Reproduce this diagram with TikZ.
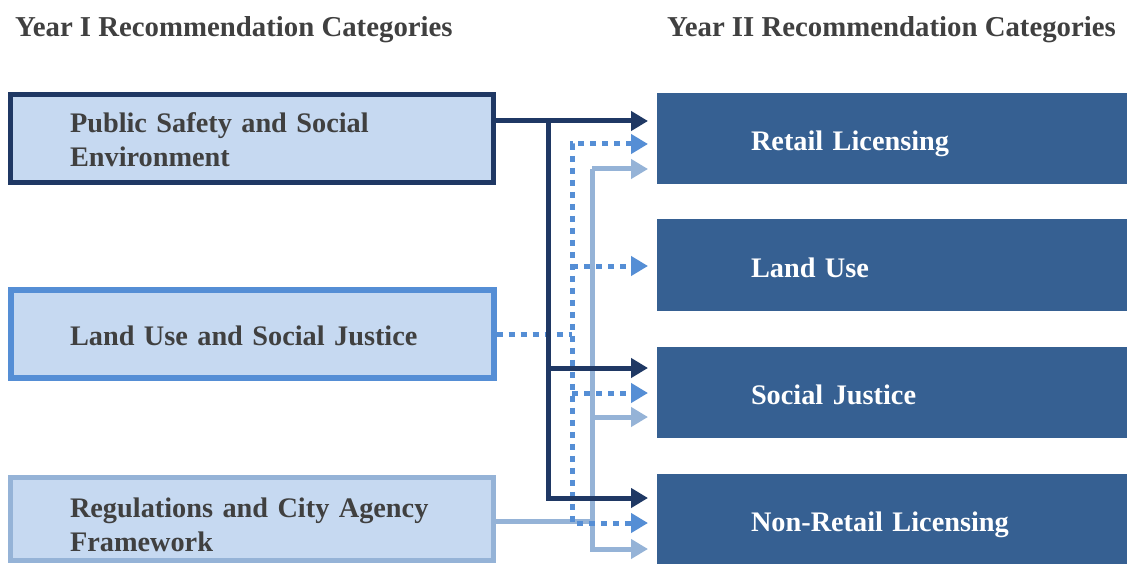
\documentclass[tikz,border=0pt]{standalone}
\usepackage{fontspec}
\setmainfont{Liberation Serif}
\usetikzlibrary{arrows.meta}
\definecolor{navy}{HTML}{1F3864}
\definecolor{midblue}{HTML}{558ED5}
\definecolor{lightline}{HTML}{95B3D7}
\definecolor{lfill}{HTML}{C6D9F1}
\definecolor{rfill}{HTML}{366092}
\definecolor{tgray}{HTML}{404040}
\begin{document}
\begin{tikzpicture}[x=1pt,y=-1pt,
  lbox/.style={rectangle, fill=lfill, line width=5pt, minimum width=483pt, inner xsep=59.5pt, inner ysep=0pt, text width=364pt, align=left, text=tgray, font=\bfseries\fontsize{28.3}{34}\selectfont},
  rbox/.style={rectangle, fill=rfill, outer sep=0pt, minimum width=470pt, minimum height=91pt, inner xsep=94pt, text width=282pt, text height=30pt, text depth=6pt, align=left, text=white, anchor=north west, font=\bfseries\fontsize{28.3}{34}\selectfont},
  ttl/.style={anchor=base west, inner sep=0pt, text=tgray, font=\bfseries\fontsize{28.8}{32}\selectfont},
  tipn/.style={-{Triangle[length=17pt,width=19pt]}},
  navyc/.style={draw=navy, line width=5pt, line join=miter},
  dotc/.style={draw=midblue, line width=5pt, dash pattern=on 6pt off 6pt},
  lightc/.style={draw=lightline, line width=5pt, line join=miter},
]
\useasboundingbox (0,0) rectangle (1127,564);

% titles
\node[ttl] (t1) at (15,37) {Year I Recommendation Categories};
\node[ttl] (t2) at (667,37) {Year II Recommendation Categories};

% left boxes
\node[lbox, draw=navy, minimum height=88pt, text height=23pt] (b1) at (252,138.5) {\mbox{Public Safety and Social}\\Environment};
\node[lbox, draw=midblue, line width=6pt, minimum width=482pt, minimum height=88pt, text height=24pt] (b2) at (252,334) {\mbox{Land Use and Social Justice}};
\node[lbox, draw=lightline, minimum height=83pt, text height=31pt] (b3) at (252,519) {\mbox{Regulations and City Agency}\\Framework};

% right boxes
\node[rbox] (r1) at (657,93) {Retail Licensing};
\node[rbox] (r2) at (657,219.5) {Land Use};
\node[rbox] (r3) at (657,346.5) {Social Justice};
\node[rbox, minimum height=90pt] (r4) at (657,474) {Non-Retail Licensing};

% junction coordinates
\coordinate (n1) at (548,121);
\coordinate (n2) at (548,368);
\coordinate (n3) at (548,498);
\coordinate (dm) at (572,334);
\coordinate (d1) at (572,144);
\coordinate (d2) at (572,266);
\coordinate (d3) at (572,393);
\coordinate (d4) at (572,523);
\coordinate (lm) at (592,521);
\coordinate (l1) at (592,169);
\coordinate (l2) at (592,417);
\coordinate (l3) at (592,549);

% light connectors (from Regulations box)
\draw[lightc] (b3.east |- lm) -- (lm);
\draw[lightc, tipn, shorten >=9pt] (l1) -- (r1.west |- l1);
\draw[lightc, tipn, shorten >=9pt] (l1) -- (l3) -- (r4.west |- l3);
\draw[lightc, tipn, shorten >=9pt] (l2) -- (r3.west |- l2);

% dotted connectors (from Land Use box)
\draw[dotc] (b2.east) -- (dm);
\draw[dotc, {Triangle[length=17pt,width=19pt]}-{Triangle[length=17pt,width=19pt]}, shorten <=9pt, shorten >=9pt] (r1.west |- d1) -- (d1) -- (d4) -- (r4.west |- d4);
\draw[dotc, tipn, shorten >=9pt] (d2) -- (r2.west |- d2);
\draw[dotc, tipn, shorten >=9pt] (d3) -- (r3.west |- d3);

% navy connectors (from Public Safety box)
\draw[navyc, tipn, shorten >=9pt] (b1.east |- n1) -- (n1) -- (r1.west |- n1);
\draw[navyc, tipn, shorten >=9pt] (n1) -- (n3) -- (r4.west |- n3);
\draw[navyc, tipn, shorten >=9pt] (n2) -- (r3.west |- n2);
\end{tikzpicture}
\end{document}
